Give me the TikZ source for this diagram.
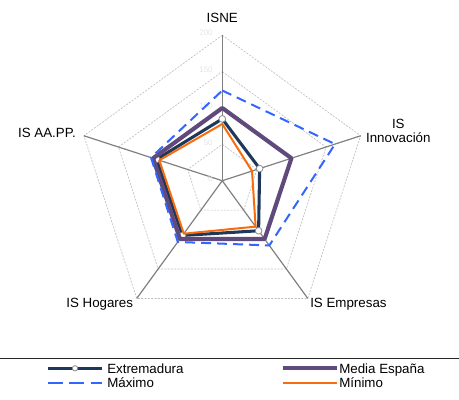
\documentclass[tikz,border=0pt]{standalone}
\usepackage{fontspec}
\setmainfont{Liberation Sans}
\usepackage{tikz}
\usetikzlibrary{positioning}
\definecolor{extremcolor}{RGB}{31, 56, 90}
\definecolor{mediacolor}{RGB}{96, 74, 123}
\definecolor{maxcolor}{RGB}{51, 102, 255}
\definecolor{mincolor}{RGB}{247, 109, 14}

\begin{document}
\begin{tikzpicture}[
    x=0.75pt, y=0.75pt,
    axislabel/.style={font=\fontsize{10}{10.5}\selectfont, inner sep=0pt},
    ticklabel/.style={font=\fontsize{6}{7}\selectfont, text=black!10, inner sep=0pt, anchor=east, xshift=-7pt, yshift=1.5pt},
    ring/.style={draw=black!25, line width=0.5pt, dash pattern=on 1.5pt off 1pt},
    spoke/.style={draw=black!50, line width=0.9pt},
    extrem/.style={draw=extremcolor, line width=2.3pt, line join=round},
    media/.style={draw=mediacolor, line width=3.1pt, line join=round},
    maximo/.style={draw=maxcolor, line width=1.5pt, dash pattern=on 7.5pt off 4.5pt},
    minimo/.style={draw=mincolor, line width=1.5pt, line join=round},
    marker/.style={circle, draw=black!45, fill=white, line width=0.6pt, inner sep=0pt, minimum size=5pt}
]
    \useasboundingbox (0,0) rectangle (459,399);

    % Radar chart, one unit = one index point
    \begin{scope}[shift={(166.7pt,163.7pt)}, x=0.5456pt, y=0.5456pt]
        \coordinate (o) at (0,0);

        % Grid rings and spokes
        \foreach \r in {50,100,150,200}
            \draw[ring] (90:\r) -- (18:\r) -- (-54:\r) -- (-126:\r) -- (162:\r) -- cycle;
        \foreach \a [count=\i] in {90,18,-54,-126,162} {
            \coordinate (axis\i) at (\a:200);
            \draw[spoke] (o) -- (axis\i);
        }

        % Scale labels
        \foreach \r in {0,50,100,150,200}
            \node[ticklabel] (tick\r) at (0,\r) {\r};

        % Series
        \draw[extrem] (90:85) -- (18:54) -- (-54:85) -- (-126:93) -- (162:95) -- cycle;
        \node[marker] (ex1) at (90:85) {};
        \node[marker] (ex2) at (18:54) {};
        \node[marker] (ex3) at (-54:85) {};
        \node[marker] (ex4) at (-126:93) {};
        \node[marker] (ex5) at (162:95) {};
        \draw[media] (90:100) -- (18:100) -- (-54:99) -- (-126:99) -- (162:100) -- cycle;
        \draw[maximo] (90:124) -- (18:163) -- (-54:110) -- (-126:104) -- (162:103) -- cycle;
        \draw[minimo] (90:78) -- (18:43) -- (-54:78) -- (-126:90) -- (162:91) -- cycle;
    \end{scope}

    % Axis labels
    \node[axislabel, anchor=base] (isne) at (222.3, 376.2) {ISNE};
    \node[axislabel, align=center] (innov) at (398.3, 267.7) {IS\\Innovación};
    \node[axislabel, anchor=base west] (empresas) at (310, 91.5) {IS Empresas};
    \node[axislabel, anchor=base east] (hogares) at (133.3, 91.5) {IS Hogares};
    \node[axislabel, anchor=base east] (aapp) at (76, 261.5) {IS AA.PP.};

    % Legend
    \coordinate (sepleft) at (0, 40.7);
    \coordinate (sepright) at (459, 40.7);
    \draw[black!85, line width=0.8pt] (sepleft) -- (sepright);

    \coordinate (extrema) at (48, 30.7);
    \coordinate (extremb) at (102, 30.7);
    \draw[extrem] (extrema) -- (extremb);
    \node[marker, minimum size=4pt] (extremmark) at (75, 30.7) {};
    \node[axislabel, anchor=base west] (extremtext) at (107, 25.9) {Extremadura};

    \coordinate (mediaa) at (283, 30.7);
    \coordinate (mediab) at (337, 30.7);
    \draw[media] (mediaa) -- (mediab);
    \node[axislabel, anchor=base west] (mediatext) at (339, 25.9) {Media España};

    \coordinate (maxa) at (48, 16.3);
    \coordinate (maxb) at (102, 16.3);
    \draw[maximo, dash pattern=on 11pt off 5pt] (maxa) -- (maxb);
    \node[axislabel, anchor=base west] (maxtext) at (107, 11.5) {Máximo};

    \coordinate (mina) at (283, 16.3);
    \coordinate (minb) at (337, 16.3);
    \draw[minimo] (mina) -- (minb);
    \node[axislabel, anchor=base west] (mintext) at (339, 11.5) {Mínimo};
\end{tikzpicture}
\end{document}
